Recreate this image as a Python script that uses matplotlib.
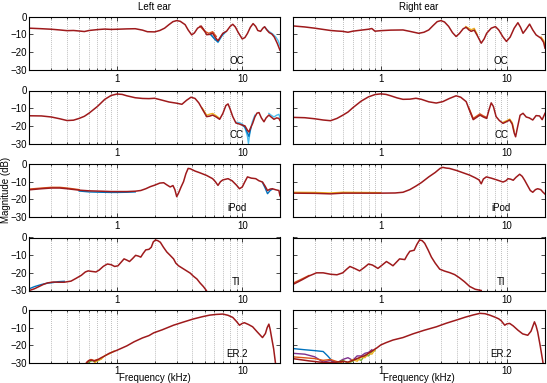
import matplotlib
matplotlib.use("Agg")
import matplotlib.pyplot as plt
from matplotlib.ticker import FixedLocator, NullFormatter

plt.rcParams['font.family'] = ['Liberation Sans', 'DejaVu Sans']

# ---------------- data (frequency in kHz, magnitude in dB) ----------------
oc_left_f = [0.2, 0.25, 0.3, 0.35, 0.4, 0.45, 0.5, 0.55, 0.6, 0.7, 0.8, 0.9, 1.0, 1.2, 1.4, 1.6, 1.75, 2.0, 2.2, 2.4,
             2.6, 2.8, 3.0, 3.2, 3.5, 3.7, 3.95, 4.15, 4.4, 4.7, 4.95, 5.2, 5.5, 5.8, 6.1, 6.4, 6.7, 7.0, 7.5, 8.0,
             8.4, 8.8, 9.3, 10.0, 10.5, 11.0, 11.6, 12.2, 12.8, 13.3, 14.0, 14.6, 15.1, 15.7, 16.4, 17.2, 18.0, 19.0, 20.0]
oc_left_db = [-6.5, -6.8, -7.1, -7.5, -7.9, -7.8, -8.1, -8.4, -7.8, -7.3, -7.0, -7.2, -7.1, -6.9, -6.8, -7.6, -8.5, -8.6, -7.8, -6.5,
              -4.5, -2.8, -2.2, -2.6, -4.5, -7.5, -10.3, -9.2, -6.5, -5.3, -7.5, -10.2, -10.0, -9.3, -11.8, -13.6, -11.5, -9.4, -8.2, -5.5,
              -4.3, -5.8, -9.0, -12.6, -11.8, -9.5, -6.0, -3.9, -5.5, -7.8, -8.3, -6.5, -5.7, -7.5, -9.0, -9.8, -11.5, -15.0, -19.0]

oc_right_f = [0.2, 0.25, 0.3, 0.35, 0.4, 0.45, 0.5, 0.55, 0.6, 0.7, 0.8, 0.85, 0.9, 1.0, 1.2, 1.5, 1.7, 2.0, 2.2, 2.4,
              2.6, 2.8, 3.0, 3.2, 3.45, 3.7, 3.95, 4.2, 4.5, 4.75, 5.0, 5.2, 5.5, 5.8, 6.25, 6.6, 6.9, 7.5, 8.1, 8.6,
              9.3, 9.9, 10.6, 11.4, 12.2, 12.8, 13.4, 14.2, 15.1, 16.0, 17.0, 18.6, 19.5, 20.0]
oc_right_db = [-5.2, -5.8, -6.5, -7.2, -7.8, -8.1, -8.3, -8.8, -8.2, -7.6, -7.1, -6.7, -8.2, -7.9, -7.6, -7.5, -8.3, -9.4, -8.8, -7.5,
               -5.0, -2.8, -2.2, -3.0, -5.5, -9.0, -11.2, -9.5, -6.8, -6.0, -7.5, -8.3, -7.6, -10.5, -15.0, -12.5, -9.4, -6.5, -5.6, -7.5,
               -11.5, -14.0, -11.5, -6.5, -3.4, -6.0, -9.4, -7.0, -4.2, -7.5, -10.3, -12.2, -14.5, -17.8]

cc_left_f = [0.2, 0.25, 0.3, 0.35, 0.4, 0.45, 0.5, 0.55, 0.6, 0.7, 0.8, 0.9, 1.0, 1.1, 1.2, 1.4, 1.6, 1.8, 2.0, 2.3,
             2.6, 3.0, 3.3, 3.6, 3.9, 4.2, 4.5, 4.8, 5.2, 5.5, 5.8, 6.2, 6.6, 7.0, 7.4, 7.7, 8.0, 8.4, 8.9, 9.5,
             10.0, 10.5, 11.0, 11.3, 11.6, 12.1, 12.6, 13.1, 13.6, 14.2, 14.9, 15.5, 16.3, 17.0, 17.9, 18.8, 19.6, 20.0]
cc_left_db = [-14.3, -14.4, -15.0, -16.0, -17.0, -16.8, -15.8, -14.6, -12.8, -9.0, -5.0, -2.8, -2.0, -2.2, -3.0, -4.1, -4.5, -4.6, -4.4, -5.5,
              -6.5, -7.2, -7.8, -5.5, -3.8, -4.5, -7.0, -10.5, -14.8, -14.5, -13.9, -15.0, -16.3, -13.0, -8.5, -7.6, -10.5, -14.8, -18.4, -19.0,
              -19.6, -20.0, -22.5, -23.5, -21.5, -18.6, -15.0, -12.8, -12.5, -15.5, -17.7, -15.5, -13.9, -15.0, -16.3, -15.5, -15.8, -17.0]

cc_right_f = [0.2, 0.25, 0.3, 0.35, 0.4, 0.45, 0.5, 0.55, 0.6, 0.7, 0.8, 0.9, 1.0, 1.1, 1.2, 1.35, 1.5, 1.7, 1.9, 2.1,
              2.4, 2.75, 3.1, 3.5, 3.95, 4.3, 4.75, 5.0, 5.4, 5.8, 6.1, 6.5, 6.9, 7.2, 7.5, 7.8, 8.2, 8.7, 9.3, 10.0,
              10.5, 11.0, 11.4, 11.7, 12.1, 12.7, 13.4, 14.2, 15.0, 16.0, 17.0, 18.1, 19.0, 20.0]
cc_right_db = [-15.2, -15.4, -16.0, -16.7, -17.1, -15.8, -14.0, -12.2, -9.8, -6.0, -3.6, -2.3, -1.9, -2.2, -3.0, -4.2, -5.0, -4.9, -4.4, -5.0,
               -6.4, -7.1, -6.3, -4.5, -3.0, -3.8, -6.3, -10.5, -16.5, -15.0, -13.9, -15.0, -15.8, -11.0, -7.0, -9.0, -14.8, -17.0, -18.6, -17.5,
               -16.7, -19.0, -24.0, -26.2, -21.0, -14.0, -12.9, -15.0, -15.5, -16.7, -14.2, -14.4, -16.5, -12.9]

ipod_left_f = [0.2, 0.25, 0.3, 0.35, 0.4, 0.5, 0.6, 0.75, 0.9, 1.0, 1.2, 1.4, 1.55, 1.7, 1.85, 2.0, 2.2, 2.36, 2.5, 2.66,
               2.8, 2.9, 3.0, 3.1, 3.25, 3.4, 3.55, 3.7, 3.85, 4.2, 4.6, 5.2, 5.8, 6.1, 6.4, 6.7, 7.0, 7.7, 8.3, 9.0,
               9.5, 10.0, 10.5, 11.0, 11.8, 12.8, 13.6, 14.5, 15.2, 15.9, 16.7, 17.4, 18.5, 19.6, 20.0]
ipod_left_db = [-14.6, -14.0, -13.6, -13.6, -14.0, -14.8, -15.2, -15.4, -15.6, -15.6, -15.6, -15.4, -15.0, -14.0, -12.8, -12.0, -10.8, -10.6, -11.8, -13.0,
                -12.2, -14.5, -18.5, -16.5, -13.0, -10.0, -5.5, -2.5, -2.7, -4.0, -5.0, -6.5, -8.3, -10.0, -12.1, -10.0, -9.0, -8.3, -9.5, -12.0,
                -14.0, -13.0, -10.0, -7.3, -8.0, -8.3, -9.5, -10.2, -12.5, -15.0, -14.2, -14.0, -14.6, -15.0, -18.0]

ipod_right_f = [0.2, 0.3, 0.4, 0.5, 0.7, 1.0, 1.3, 1.5, 1.7, 1.9, 2.1, 2.4, 2.7, 2.95, 3.1, 3.3, 3.5, 4.0, 4.5, 5.06,
                5.6, 6.0, 6.25, 6.5, 6.86, 7.5, 8.3, 9.3, 9.8, 10.2, 10.7, 11.2, 11.8, 12.6, 13.2, 13.8, 14.5, 15.3, 16.0, 16.8,
                17.5, 18.5, 19.3, 20.0]
ipod_right_db = [-16.5, -16.6, -16.9, -16.5, -16.5, -16.5, -16.4, -16.0, -14.5, -12.5, -10.5, -7.3, -4.8, -2.5, -1.9, -2.3, -2.5, -3.7, -5.0, -6.3,
                 -7.8, -9.0, -11.2, -8.5, -7.3, -8.0, -9.0, -10.2, -9.5, -8.3, -8.6, -9.2, -7.5, -5.8, -7.0, -9.2, -12.0, -15.0, -16.0, -14.5,
                 -14.0, -14.5, -16.0, -17.0]

ti_left_f = [0.2, 0.22, 0.24, 0.26, 0.28, 0.31, 0.34, 0.38, 0.43, 0.47, 0.52, 0.56, 0.59, 0.63, 0.68, 0.72, 0.78, 0.84, 0.9, 0.96,
             1.02, 1.08, 1.14, 1.2, 1.26, 1.33, 1.41, 1.48, 1.55, 1.62, 1.7, 1.8, 1.88, 1.95, 2.03, 2.12, 2.22, 2.35, 2.5, 2.65,
             2.83, 2.95, 3.1, 3.35, 3.6, 3.85, 4.06, 4.35, 4.6, 4.9, 5.17]
ti_left_db = [-30.0, -29.0, -27.7, -26.5, -25.7, -25.2, -25.3, -25.3, -24.7, -23.2, -21.4, -19.5, -18.9, -19.2, -19.5, -18.5, -16.3, -15.0, -15.4, -16.4,
              -16.0, -14.0, -12.1, -12.8, -13.6, -12.0, -10.1, -10.5, -11.1, -9.0, -7.0, -6.7, -5.5, -2.5, -1.4, -1.8, -2.7, -5.5, -8.2, -10.0,
              -12.1, -14.5, -16.0, -17.5, -18.9, -20.2, -21.8, -23.5, -25.7, -27.8, -30.0]

ti_right_f = [0.2, 0.22, 0.24, 0.27, 0.31, 0.35, 0.4, 0.45, 0.5, 0.54, 0.57, 0.62, 0.68, 0.74, 0.8, 0.86, 0.95, 1.03, 1.11, 1.18,
              1.25, 1.33, 1.41, 1.55, 1.62, 1.7, 1.84, 1.93, 2.03, 2.13, 2.23, 2.37, 2.52, 2.7, 2.93, 3.2, 3.52, 3.85, 4.2, 4.6,
              5.06, 5.6, 6.25]
ti_right_db = [-26.7, -25.2, -23.8, -21.8, -20.0, -20.0, -20.8, -21.1, -20.0, -17.8, -16.4, -17.5, -18.9, -17.0, -15.0, -15.6, -17.5, -15.5, -13.6, -14.8,
               -16.0, -14.0, -12.1, -12.5, -10.0, -7.8, -7.2, -4.0, -1.4, -1.8, -3.3, -7.0, -11.1, -14.5, -17.9, -19.0, -19.9, -21.0, -22.8, -25.0,
               -27.7, -29.3, -30.0]

er2_left_f = [0.57, 0.6, 0.63, 0.66, 0.7, 0.75, 0.8, 0.87, 0.93, 1.0, 1.1, 1.2, 1.37, 1.6, 1.8, 1.97, 2.3, 2.83, 3.4, 4.06,
              4.8, 5.5, 6.2, 7.0, 7.7, 8.4, 9.0, 9.5, 10.0, 10.4, 11.2, 12.1, 13.2, 14.5, 15.3, 15.8, 16.3, 16.7, 17.1, 17.8, 18.4]
er2_left_db = [-30.0, -28.5, -28.4, -28.9, -28.2, -27.0, -26.0, -24.5, -23.7, -22.8, -21.5, -20.3, -18.0, -15.8, -14.5, -12.9, -11.2, -8.6, -6.8, -5.1,
               -3.8, -2.9, -2.5, -2.3, -3.0, -4.2, -6.5, -8.6, -7.6, -7.2, -8.2, -9.5, -12.5, -15.6, -13.3, -10.0, -8.0, -11.0, -15.2, -22.0, -30.0]

er2_right_f = [0.2, 0.23, 0.27, 0.33, 0.38, 0.45, 0.5, 0.55, 0.6, 0.65, 0.7, 0.75, 0.8, 0.87, 0.93, 1.0, 1.1, 1.25, 1.5, 1.8,
               2.2, 2.76, 3.3, 3.97, 4.7, 5.4, 6.1, 6.7, 7.3, 8.0, 8.6, 9.0, 9.6, 10.0, 10.5, 11.2, 12.2, 13.3, 14.6, 15.5,
               16.5, 17.0, 17.5, 18.3, 19.3]
er2_right_db = [-27.5, -28.1, -28.8, -29.5, -29.8, -29.5, -29.0, -29.5, -28.5, -27.5, -26.5, -25.8, -24.5, -22.8, -21.5, -19.8, -18.5, -17.0, -15.6, -13.5,
                -11.5, -9.5, -7.5, -5.7, -4.0, -2.8, -1.9, -2.1, -2.9, -4.0, -5.0, -6.1, -8.6, -7.8, -7.6, -9.0, -11.4, -13.5, -14.3, -12.0,
                -6.7, -9.0, -12.4, -20.0, -30.0]

# individual measurements that differ visibly from the top (dark red) curve
extras = {
    ('OC', 0): [('orange', [4.6, 5.0, 5.4, 5.8, 6.2], [-5.4, -8.2, -9.4, -8.5, -11.2]),
                ('cyan', [5.5, 6.0, 6.4, 6.9, 7.4], [-9.8, -12.3, -14.6, -10.8, -8.6]),
                ('blue', [5.6, 6.0, 6.4, 6.8, 7.2], [-10.0, -12.6, -14.2, -11.0, -9.0]),
                ('cyan', [15.0, 16.3, 17.5, 18.5, 19.3, 20.0], [-5.8, -8.3, -9.8, -11.5, -13.5, -16.5])],
    ('OC', 1): [('yellow', [4.7, 5.0, 5.2, 5.5, 5.8], [-5.6, -6.6, -7.4, -6.6, -10.0]),
                ('yellow', [18.6, 19.5, 20.0], [-11.5, -13.5, -16.5])],
    ('CC', 0): [('yellow', [4.8, 5.2, 5.5, 5.8, 6.2, 6.6], [-10.0, -14.0, -13.4, -13.0, -14.3, -15.8]),
                ('cyan', [9.0, 9.5, 10.0, 10.5, 11.0, 11.2, 11.5, 12.0, 12.6], [-18.0, -18.2, -19.0, -21.0, -26.0, -30.0, -24.0, -18.0, -14.0]),
                ('blue', [10.0, 10.5, 11.0, 11.3, 11.7], [-19.5, -20.8, -24.0, -26.0, -21.0]),
                ('cyan', [16.3, 17.0, 17.9, 18.8, 19.6, 20.0], [-13.0, -14.0, -15.0, -14.0, -13.5, -15.5])],
    ('CC', 1): [('orange', [5.0, 5.4, 5.8, 6.1, 6.5, 6.9], [-10.0, -15.8, -14.3, -13.2, -14.4, -15.2]),
                ('yellow', [9.3, 10.0, 10.5, 11.0, 11.4], [-18.0, -17.0, -16.2, -18.2, -23.0])],
    ('iPod', 0): [('orange', [0.2, 0.25, 0.3, 0.35, 0.4, 0.5], [-14.2, -13.6, -13.2, -13.2, -13.6, -14.5]),
                  ('blue', [0.5, 0.6, 0.75, 0.9, 1.0, 1.2, 1.4], [-15.3, -15.8, -16.0, -16.1, -16.1, -16.0, -15.8]),
                  ('blue', [14.5, 15.2, 15.9, 16.7, 17.4], [-10.5, -13.5, -16.8, -15.0, -14.2])],
    ('iPod', 1): [('yellow', [0.2, 0.3, 0.4, 0.5, 0.7, 1.0], [-16.0, -16.1, -16.4, -16.0, -16.1, -16.2])],
    ('TI', 0): [('blue', [0.2, 0.22, 0.25, 0.28, 0.31, 0.34, 0.38], [-29.0, -27.8, -26.6, -25.8, -25.5, -25.0, -24.8])],
    ('TI', 1): [('orange', [0.2, 0.22, 0.24, 0.27], [-26.0, -24.6, -23.3, -21.5])],
    ('ER.2', 0): [('green', [0.58, 0.61, 0.64, 0.67, 0.7, 0.75], [-30.0, -29.2, -28.6, -29.3, -28.9, -27.6]),
                  ('yellow', [0.66, 0.7, 0.75, 0.8, 0.87, 0.95], [-30.0, -28.6, -27.8, -25.8, -24.8, -23.2]),
                  ('orange', [0.58, 0.62, 0.66, 0.7], [-29.2, -28.0, -28.6, -28.0])],
    ('ER.2', 1): [('blue', [0.2, 0.25, 0.3, 0.35, 0.38, 0.42, 0.45], [-21.8, -22.5, -23.0, -23.5, -26.0, -29.5, -30.0]),
                  ('purple', [0.2, 0.25, 0.3, 0.35, 0.4, 0.45, 0.5, 0.55, 0.6, 0.65, 0.7, 0.75, 0.8, 0.85],
                   [-24.5, -25.0, -26.5, -29.5, -28.5, -30.0, -28.0, -27.0, -28.5, -26.0, -26.0, -24.5, -24.0, -22.5]),
                  ('orange', [0.2, 0.3, 0.35, 0.4, 0.45, 0.5], [-26.5, -27.5, -28.5, -28.0, -29.2, -30.0]),
                  ('green', [0.45, 0.5, 0.55, 0.6, 0.65, 0.7, 0.75, 0.8, 0.85, 0.9], [-30.0, -28.5, -30.0, -29.0, -27.5, -28.5, -25.5, -26.0, -23.5, -23.0]),
                  ('yellow', [0.55, 0.6, 0.65, 0.7, 0.75, 0.8, 0.85, 0.9], [-30.0, -28.0, -29.0, -26.5, -27.0, -24.5, -25.0, -22.5])],
}

devices = ['OC', 'CC', 'iPod', 'TI', 'ER.2']
main_curves = {
    'OC': [(oc_left_f, oc_left_db), (oc_right_f, oc_right_db)],
    'CC': [(cc_left_f, cc_left_db), (cc_right_f, cc_right_db)],
    'iPod': [(ipod_left_f, ipod_left_db), (ipod_right_f, ipod_right_db)],
    'TI': [(ti_left_f, ti_left_db), (ti_right_f, ti_right_db)],
    'ER.2': [(er2_left_f, er2_left_db), (er2_right_f, er2_right_db)],
}
column_titles = ['Left ear', 'Right ear']
yticks = [0, -10, -20, -30]
ytick_labels = ['0', '\u221210', '\u221220', '\u221230']
xmajor = [1, 10]
xmajor_labels = ['1', '10']
xminor = [0.2, 0.3, 0.4, 0.5, 0.6, 0.7, 0.8, 0.9, 2, 3, 4, 5, 6, 7, 8, 9, 20]

colors = {
    'blue': (0.0, 0.447, 0.741),
    'orange': (0.85, 0.325, 0.098),
    'yellow': (0.929, 0.694, 0.125),
    'purple': (0.494, 0.184, 0.556),
    'green': (0.466, 0.674, 0.188),
    'cyan': (0.301, 0.745, 0.933),
    'darkred': (0.62, 0.1, 0.11),
}

# ---------------- figure ----------------
W, H = 547, 383
fig = plt.figure(figsize=(W / 100, H / 100), dpi=100)

col_x = [29.3, 292.5]
col_w = [250.7, 252.5]
row_top = [16.7, 90.5, 164.0, 237.5, 310.0]
row_h = 53.0

for r, dev in enumerate(devices):
    for c in range(2):
        ax = fig.add_axes([col_x[c] / W, 1 - (row_top[r] + row_h) / H, col_w[c] / W, row_h / H])
        for cname, fx, dbx in extras.get((dev, c), []):
            ax.plot(fx, dbx, color=colors[cname], lw=1.0, solid_joinstyle='round')
        f, db = main_curves[dev][c]
        ax.plot(f, db, color=colors['darkred'], lw=1.1, solid_joinstyle='round')
        ax.set_xscale('log')
        ax.set_xlim(0.2, 20)
        ax.set_ylim(-30, 0)
        ax.xaxis.set_major_locator(FixedLocator(xmajor))
        ax.xaxis.set_minor_locator(FixedLocator(xminor))
        ax.xaxis.set_minor_formatter(NullFormatter())
        ax.set_xticklabels(xmajor_labels)
        ax.set_yticks(yticks)
        if c == 0:
            ax.set_yticklabels(ytick_labels)
        else:
            ax.set_yticklabels([])
        ax.tick_params(axis='both', which='both', direction='in', labelsize=7, width=0.5, colors='black')
        ax.tick_params(which='major', length=3)
        ax.tick_params(which='minor', length=1.5)
        ax.tick_params(axis='x', which='major', pad=2.5 if r == len(devices) - 1 else 3)
        ax.tick_params(axis='y', right=True, pad=2)
        ax.tick_params(axis='x', top=True, which='both')
        ax.grid(True, axis='x', which='both', linestyle=(0, (1, 1.6)), color='#9a9a9a', linewidth=0.55)
        for sp in ax.spines.values():
            sp.set_linewidth(0.8)
        ax.text(9.0, -25.0, dev, fontsize=7, ha='center', va='center')
        if r == 0:
            ax.set_title(column_titles[c], fontsize=7, pad=4.5)
        if r == len(devices) - 1:
            xc = (col_x[c] + col_w[c] / 2) / W
            fig.text(xc, 2.3 / H, 'Frequency (kHz)', ha='center', va='baseline', fontsize=7)

fig.text(6.5 / W, 1 - 190 / H, 'Magnitude (dB)', rotation=90, ha='center', va='center', fontsize=7)

fig.savefig('out.png', dpi=100)
